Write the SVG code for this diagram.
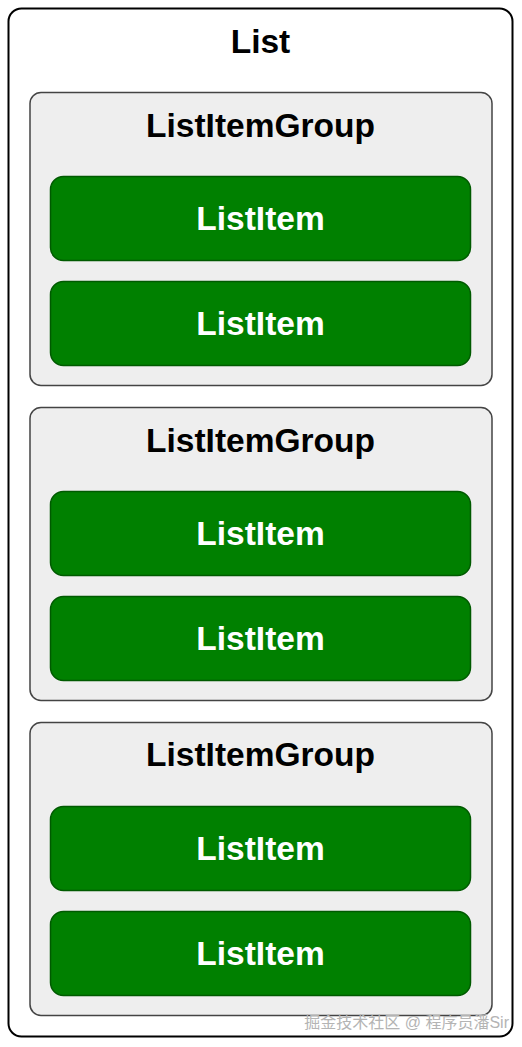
<svg xmlns="http://www.w3.org/2000/svg" width="522" height="1047" viewBox="0 0 522 1047">
<style>
.outer{fill:#ffffff;stroke:#000000;stroke-width:2}
.grp{fill:#eeeeee;stroke:#444444;stroke-width:1.5}
.item{fill:#008000;stroke:#005a00;stroke-width:1.5}
.t{font-family:"Liberation Sans",Arial,sans-serif;font-weight:bold;font-size:33.5px;text-anchor:middle}
.dark{fill:#000000}
.light{fill:#ffffff}
.wm{font-family:"Liberation Sans","Noto Sans CJK SC",sans-serif;font-size:16px;fill:#b4b4b4;text-anchor:end}
</style>
<rect width="522" height="1047" fill="#ffffff"/>
<g id="list">
<rect class="outer" x="8.5" y="8.5" width="504" height="1028" rx="13"/>
<text class="t dark" x="260.5" y="53">List</text>
</g>
<g id="group1">
<rect class="grp" x="30" y="92.5" width="462" height="293" rx="11"/>
<text class="t dark" x="260.5" y="137">ListItemGroup</text>
</g>
<g id="item1a"><rect class="item" x="50.5" y="176.5" width="420" height="84" rx="13"/><text class="t light" x="260.5" y="230">ListItem</text></g>
<g id="item1b"><rect class="item" x="50.5" y="281.5" width="420" height="84" rx="13"/><text class="t light" x="260.5" y="335">ListItem</text></g>
<g id="group2">
<rect class="grp" x="30" y="407.5" width="462" height="293" rx="11"/>
<text class="t dark" x="260.5" y="452">ListItemGroup</text>
</g>
<g id="item2a"><rect class="item" x="50.5" y="491.5" width="420" height="84" rx="13"/><text class="t light" x="260.5" y="545">ListItem</text></g>
<g id="item2b"><rect class="item" x="50.5" y="596.5" width="420" height="84" rx="13"/><text class="t light" x="260.5" y="650">ListItem</text></g>
<g id="group3">
<rect class="grp" x="30" y="722.5" width="462" height="293" rx="11"/>
<text class="t dark" x="260.5" y="766">ListItemGroup</text>
</g>
<g id="item3a"><rect class="item" x="50.5" y="806.5" width="420" height="84" rx="13"/><text class="t light" x="260.5" y="860">ListItem</text></g>
<g id="item3b"><rect class="item" x="50.5" y="911.5" width="420" height="84" rx="13"/><text class="t light" x="260.5" y="965">ListItem</text></g>
<g id="connectors"></g>
<text class="wm" x="509" y="1028">掘金技术社区 @ 程序员潘Sir</text>
</svg>
